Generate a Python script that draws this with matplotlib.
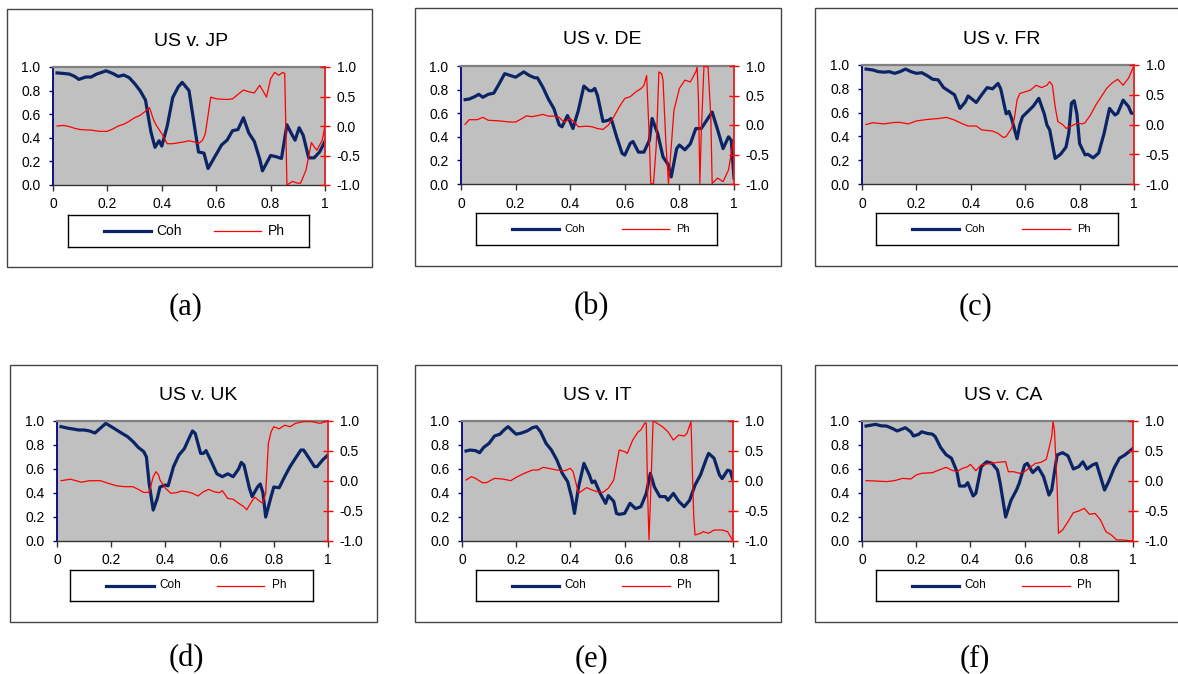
import numpy as np
import matplotlib
matplotlib.use('Agg')
import matplotlib.pyplot as plt
from matplotlib.patches import Rectangle

plt.rcParams['font.family'] = ['Liberation Sans', 'DejaVu Sans']
plt.rcParams['axes.unicode_minus'] = False

# Дані, зчитані з графіків (частота, когерентність, фаза)
jp_coh_x = [0.015, 0.04, 0.06, 0.08, 0.095, 0.12, 0.14, 0.16, 0.18, 0.195, 0.22, 0.24, 0.26, 0.28, 0.30,
            0.32, 0.34, 0.36, 0.375, 0.39, 0.40, 0.42, 0.44, 0.46, 0.475, 0.50, 0.52, 0.535, 0.555, 0.57,
            0.60, 0.62, 0.64, 0.66, 0.68, 0.70, 0.72, 0.74, 0.76, 0.77, 0.80, 0.82, 0.84, 0.86, 0.88,
            0.89, 0.905, 0.92, 0.94, 0.96, 0.98, 1.0]
jp_coh = [0.95, 0.945, 0.94, 0.92, 0.895, 0.915, 0.915, 0.94, 0.955, 0.968, 0.945, 0.92, 0.932, 0.91, 0.86,
          0.80, 0.72, 0.45, 0.32, 0.375, 0.33, 0.50, 0.74, 0.83, 0.87, 0.80, 0.50, 0.28, 0.27, 0.14,
          0.26, 0.34, 0.38, 0.46, 0.47, 0.57, 0.44, 0.37, 0.22, 0.12, 0.25, 0.24, 0.225, 0.51, 0.42,
          0.38, 0.485, 0.42, 0.23, 0.23, 0.28, 0.37]
jp_ph_x = [0.015, 0.04, 0.06, 0.08, 0.10, 0.14, 0.17, 0.20, 0.22, 0.24, 0.26, 0.28, 0.30, 0.32, 0.34,
           0.355, 0.37, 0.38, 0.40, 0.42, 0.44, 0.48, 0.50, 0.52, 0.535, 0.55, 0.56, 0.58, 0.60, 0.64,
           0.66, 0.70, 0.72, 0.74, 0.76, 0.785, 0.80, 0.815, 0.83, 0.845, 0.852, 0.86, 0.88, 0.90, 0.91,
           0.93, 0.95, 0.96, 0.97, 0.99, 1.0]
jp_ph = [0.0, 0.01, -0.01, -0.04, -0.06, -0.07, -0.09, -0.09, -0.05, 0.0, 0.03, 0.08, 0.14, 0.18, 0.25,
         0.31, 0.10, 0.01, -0.13, -0.30, -0.30, -0.27, -0.25, -0.27, -0.30, -0.24, -0.13, 0.49, 0.46, 0.45,
         0.46, 0.61, 0.58, 0.56, 0.69, 0.49, 0.80, 0.91, 0.86, 0.91, 0.89, -1.0, -0.94, -0.97, -0.97,
         -0.75, -0.28, -0.35, -0.41, -0.24, 0.01]

de_coh_x = [0.015, 0.03, 0.05, 0.065, 0.08, 0.10, 0.12, 0.14, 0.16, 0.18, 0.20, 0.22, 0.23, 0.25, 0.27,
            0.28, 0.30, 0.32, 0.34, 0.36, 0.37, 0.39, 0.41, 0.43, 0.45, 0.47, 0.48, 0.49, 0.50, 0.52,
            0.54, 0.55, 0.57, 0.59, 0.60, 0.62, 0.63, 0.65, 0.67, 0.69, 0.70, 0.72, 0.74, 0.76, 0.77,
            0.79, 0.80, 0.82, 0.84, 0.86, 0.88, 0.90, 0.92, 0.94, 0.96, 0.98, 0.99, 1.0]
de_coh = [0.715, 0.72, 0.74, 0.76, 0.735, 0.76, 0.77, 0.85, 0.935, 0.92, 0.905, 0.935, 0.95, 0.92, 0.90,
          0.90, 0.82, 0.72, 0.64, 0.50, 0.485, 0.58, 0.47, 0.625, 0.83, 0.79, 0.79, 0.81, 0.75, 0.53,
          0.54, 0.555, 0.40, 0.26, 0.245, 0.345, 0.36, 0.27, 0.27, 0.37, 0.555, 0.43, 0.23, 0.16, 0.06,
          0.30, 0.33, 0.29, 0.34, 0.47, 0.47, 0.54, 0.61, 0.46, 0.30, 0.40, 0.37, 0.05]
de_ph_x = [0.015, 0.03, 0.06, 0.08, 0.10, 0.14, 0.18, 0.20, 0.22, 0.24, 0.26, 0.28, 0.30, 0.32, 0.34,
           0.36, 0.37, 0.38, 0.40, 0.42, 0.43, 0.46, 0.48, 0.50, 0.52, 0.54, 0.56, 0.58, 0.60, 0.62,
           0.64, 0.66, 0.67, 0.68, 0.69, 0.695, 0.705, 0.715, 0.725, 0.735, 0.74, 0.75, 0.76, 0.77, 0.78,
           0.80, 0.82, 0.84, 0.86, 0.865, 0.87, 0.875, 0.88, 0.89, 0.905, 0.915, 0.92, 0.94, 0.96, 0.98,
           1.0]
de_ph = [0.01, 0.09, 0.09, 0.13, 0.08, 0.07, 0.05, 0.05, 0.10, 0.155, 0.14, 0.16, 0.18, 0.15, 0.15,
         0.13, 0.08, 0.05, 0.11, 0.025, -0.03, -0.02, -0.03, -0.06, -0.075, 0.0, 0.14, 0.31, 0.45, 0.48,
         0.56, 0.62, 0.67, 0.84, -0.26, -0.99, -1.0, -0.37, 0.90, 0.87, 0.76, -0.26, -0.99, -0.37, 0.25,
         0.62, 0.76, 0.73, 0.90, 0.98, 0.42, -0.99, -0.14, 1.0, 0.98, 0.14, -0.99, -0.90, -0.96, -0.76,
         -0.2]

fr_coh_x = [0.015, 0.04, 0.06, 0.08, 0.10, 0.12, 0.14, 0.16, 0.18, 0.20, 0.22, 0.24, 0.26, 0.28, 0.30,
            0.32, 0.34, 0.36, 0.38, 0.39, 0.42, 0.44, 0.46, 0.48, 0.50, 0.51, 0.53, 0.54, 0.55, 0.57,
            0.58, 0.59, 0.61, 0.63, 0.65, 0.67, 0.68, 0.69, 0.71, 0.73, 0.75, 0.76, 0.77, 0.78, 0.79,
            0.80, 0.82, 0.83, 0.85, 0.87, 0.89, 0.91, 0.93, 0.94, 0.96, 0.98, 0.99, 1.0]
fr_coh = [0.966, 0.958, 0.944, 0.94, 0.944, 0.93, 0.944, 0.966, 0.944, 0.93, 0.935, 0.91, 0.88, 0.875, 0.81,
          0.78, 0.75, 0.635, 0.69, 0.74, 0.685, 0.75, 0.81, 0.80, 0.845, 0.80, 0.59, 0.61, 0.55, 0.38,
          0.495, 0.565, 0.61, 0.655, 0.72, 0.59, 0.495, 0.455, 0.215, 0.25, 0.31, 0.425, 0.68, 0.70, 0.59,
          0.34, 0.245, 0.25, 0.22, 0.26, 0.425, 0.635, 0.58, 0.595, 0.705, 0.65, 0.595, 0.595]
fr_ph_x = [0.015, 0.04, 0.08, 0.12, 0.14, 0.17, 0.20, 0.24, 0.28, 0.31, 0.34, 0.37, 0.39, 0.42, 0.44,
           0.48, 0.50, 0.52, 0.53, 0.55, 0.56, 0.57, 0.58, 0.60, 0.62, 0.64, 0.66, 0.68, 0.69, 0.70,
           0.71, 0.72, 0.74, 0.75, 0.77, 0.79, 0.81, 0.82, 0.84, 0.86, 0.88, 0.90, 0.92, 0.94, 0.96,
           0.98, 1.0]
fr_ph = [0.0, 0.03, 0.01, 0.035, 0.035, 0.01, 0.06, 0.085, 0.10, 0.12, 0.075, 0.01, -0.025, -0.025, -0.09,
         -0.11, -0.15, -0.22, -0.20, -0.065, 0.10, 0.41, 0.52, 0.55, 0.58, 0.66, 0.62, 0.66, 0.72, 0.66,
         0.30, 0.05, -0.01, -0.065, -0.025, 0.02, 0.01, 0.03, 0.16, 0.33, 0.47, 0.61, 0.70, 0.76, 0.66,
         0.78, 0.99]

uk_coh_x = [0.015, 0.04, 0.06, 0.08, 0.10, 0.12, 0.14, 0.16, 0.18, 0.20, 0.22, 0.24, 0.26, 0.28, 0.30,
            0.32, 0.33, 0.34, 0.355, 0.37, 0.38, 0.40, 0.41, 0.43, 0.45, 0.47, 0.49, 0.50, 0.51, 0.53,
            0.54, 0.55, 0.57, 0.59, 0.61, 0.63, 0.65, 0.67, 0.68, 0.69, 0.71, 0.72, 0.74, 0.75, 0.76,
            0.77, 0.79, 0.80, 0.82, 0.84, 0.86, 0.88, 0.90, 0.91, 0.93, 0.95, 0.96, 0.98, 1.0]
uk_coh = [0.953, 0.94, 0.933, 0.925, 0.925, 0.917, 0.90, 0.94, 0.98, 0.953, 0.925, 0.897, 0.87, 0.83, 0.78,
          0.745, 0.70, 0.48, 0.258, 0.355, 0.45, 0.467, 0.46, 0.62, 0.717, 0.77, 0.87, 0.917, 0.897, 0.73,
          0.73, 0.753, 0.66, 0.56, 0.536, 0.56, 0.536, 0.60, 0.655, 0.633, 0.44, 0.37, 0.45, 0.475, 0.40,
          0.20, 0.37, 0.45, 0.444, 0.536, 0.62, 0.69, 0.758, 0.758, 0.69, 0.62, 0.62, 0.675, 0.717]
uk_ph_x = [0.015, 0.05, 0.07, 0.09, 0.12, 0.16, 0.19, 0.22, 0.25, 0.28, 0.30, 0.32, 0.34, 0.355, 0.365,
           0.375, 0.38, 0.40, 0.42, 0.44, 0.46, 0.48, 0.50, 0.52, 0.54, 0.56, 0.58, 0.60, 0.61, 0.63,
           0.65, 0.67, 0.69, 0.70, 0.72, 0.73, 0.75, 0.76, 0.77, 0.78, 0.79, 0.80, 0.82, 0.84, 0.86,
           0.88, 0.91, 0.94, 0.97, 1.0]
uk_ph = [0.005, 0.03, 0.005, -0.02, 0.005, 0.005, -0.04, -0.08, -0.095, -0.095, -0.14, -0.19, -0.19, 0.07, 0.155,
         0.10, 0.017, -0.12, -0.205, -0.195, -0.167, -0.18, -0.205, -0.25, -0.18, -0.14, -0.18, -0.195, -0.16, -0.29,
         -0.305, -0.37, -0.43, -0.48, -0.33, -0.27, -0.345, -0.37, -0.205, 0.63, 0.82, 0.905, 0.87, 0.93, 0.905,
         0.96, 0.99, 0.99, 0.96, 1.0]

it_coh_x = [0.015, 0.03, 0.05, 0.065, 0.08, 0.10, 0.12, 0.14, 0.155, 0.17, 0.19, 0.20, 0.22, 0.24, 0.26,
            0.275, 0.29, 0.31, 0.33, 0.35, 0.37, 0.39, 0.405, 0.415, 0.43, 0.45, 0.47, 0.48, 0.49, 0.51,
            0.53, 0.54, 0.56, 0.57, 0.58, 0.60, 0.62, 0.64, 0.66, 0.68, 0.695, 0.71, 0.73, 0.75, 0.76,
            0.78, 0.80, 0.82, 0.84, 0.86, 0.88, 0.90, 0.91, 0.93, 0.95, 0.96, 0.98, 0.99, 1.0]
it_coh = [0.75, 0.758, 0.753, 0.736, 0.78, 0.814, 0.875, 0.89, 0.925, 0.953, 0.91, 0.89, 0.90, 0.917, 0.944,
          0.953, 0.91, 0.814, 0.758, 0.675, 0.564, 0.494, 0.36, 0.23, 0.45, 0.647, 0.55, 0.486, 0.50, 0.397,
          0.314, 0.378, 0.33, 0.23, 0.222, 0.23, 0.314, 0.27, 0.286, 0.397, 0.564, 0.45, 0.37, 0.37, 0.34,
          0.397, 0.33, 0.286, 0.34, 0.467, 0.55, 0.675, 0.73, 0.69, 0.55, 0.52, 0.59, 0.583, 0.508]
it_ph_x = [0.015, 0.035, 0.05, 0.075, 0.09, 0.12, 0.15, 0.18, 0.20, 0.23, 0.26, 0.28, 0.30, 0.32, 0.35,
           0.38, 0.40, 0.41, 0.43, 0.45, 0.46, 0.48, 0.50, 0.52, 0.54, 0.56, 0.58, 0.60, 0.61, 0.63,
           0.65, 0.66, 0.675, 0.68, 0.685, 0.69, 0.695, 0.705, 0.71, 0.72, 0.74, 0.76, 0.78, 0.80, 0.82,
           0.83, 0.845, 0.855, 0.86, 0.88, 0.89, 0.91, 0.93, 0.96, 0.98, 1.0]
it_ph = [0.017, 0.072, 0.044, -0.028, -0.028, 0.044, 0.033, 0.006, 0.061, 0.128, 0.183, 0.183, 0.228, 0.21, 0.183,
         0.172, 0.21, 0.155, -0.205, -0.14, -0.11, -0.15, -0.18, -0.19, -0.12, 0.017, 0.517, 0.49, 0.46, 0.683,
         0.82, 0.85, 0.97, 0.96, -0.205, -0.98, -0.37, 0.99, 0.99, 0.96, 0.905, 0.82, 0.683, 0.767, 0.75,
         0.794, 0.99, -0.594, -0.90, -0.872, -0.844, -0.872, -0.817, -0.817, -0.844, -1.0]

ca_coh_x = [0.015, 0.03, 0.05, 0.07, 0.09, 0.11, 0.13, 0.16, 0.18, 0.19, 0.21, 0.22, 0.24, 0.26, 0.27,
            0.29, 0.31, 0.33, 0.35, 0.36, 0.38, 0.39, 0.41, 0.42, 0.44, 0.46, 0.48, 0.50, 0.51, 0.53,
            0.55, 0.57, 0.58, 0.60, 0.61, 0.63, 0.65, 0.67, 0.69, 0.70, 0.72, 0.74, 0.76, 0.78, 0.80,
            0.815, 0.83, 0.85, 0.865, 0.88, 0.895, 0.91, 0.93, 0.95, 0.97, 0.99, 1.0]
ca_coh = [0.958, 0.964, 0.972, 0.96, 0.958, 0.94, 0.917, 0.944, 0.91, 0.875, 0.89, 0.91, 0.897, 0.89, 0.87,
          0.78, 0.72, 0.69, 0.58, 0.458, 0.458, 0.486, 0.375, 0.397, 0.62, 0.66, 0.647, 0.59, 0.48, 0.20,
          0.34, 0.425, 0.48, 0.633, 0.647, 0.57, 0.614, 0.536, 0.383, 0.425, 0.717, 0.736, 0.71, 0.60, 0.62,
          0.66, 0.60, 0.633, 0.647, 0.536, 0.425, 0.494, 0.606, 0.69, 0.717, 0.753, 0.772]
ca_ph_x = [0.015, 0.05, 0.09, 0.12, 0.15, 0.18, 0.20, 0.22, 0.26, 0.29, 0.31, 0.33, 0.35, 0.37, 0.39,
           0.40, 0.42, 0.44, 0.46, 0.48, 0.50, 0.53, 0.54, 0.56, 0.58, 0.60, 0.62, 0.64, 0.66, 0.68,
           0.69, 0.70, 0.705, 0.71, 0.72, 0.725, 0.74, 0.76, 0.78, 0.80, 0.82, 0.84, 0.86, 0.88, 0.90,
           0.92, 0.94, 0.96, 1.0]
ca_ph = [0.006, 0.0, -0.01, 0.006, 0.044, 0.033, 0.10, 0.128, 0.139, 0.194, 0.228, 0.183, 0.155, 0.21, 0.239,
         0.278, 0.172, 0.267, 0.283, 0.294, 0.311, 0.322, 0.155, 0.155, 0.128, 0.155, 0.228, 0.294, 0.311, 0.361,
         0.544, 0.739, 0.99, 0.85, -0.094, -0.872, -0.817, -0.678, -0.528, -0.5, -0.456, -0.556, -0.54, -0.65, -0.844,
         -0.90, -0.983, -0.983, -1.0]

titles = ['US v. JP', 'US v. DE', 'US v. FR', 'US v. UK', 'US v. IT', 'US v. CA']
captions = ['(a)', '(b)', '(c)', '(d)', '(e)', '(f)']
x_ticks = [0, 0.2, 0.4, 0.6, 0.8, 1]
x_tick_labels = ['0', '0.2', '0.4', '0.6', '0.8', '1']
coh_ticks = [0.0, 0.2, 0.4, 0.6, 0.8, 1.0]
ph_ticks = [-1.0, -0.5, 0.0, 0.5, 1.0]

series = [(jp_coh_x, jp_coh, jp_ph_x, jp_ph),
          (de_coh_x, de_coh, de_ph_x, de_ph),
          (fr_coh_x, fr_coh, fr_ph_x, fr_ph),
          (uk_coh_x, uk_coh, uk_ph_x, uk_ph),
          (it_coh_x, it_coh, it_ph_x, it_ph),
          (ca_coh_x, ca_coh, ca_ph_x, ca_ph)]

# Розміщення (у пікселях)
W, H = 1178, 674
frames = [(7, 9, 372, 267), (415, 8, 781, 266), (815, 8, 1190, 266),
          (10, 365, 377, 622), (415, 365, 781, 622), (815, 365, 1190, 622)]
plots = [(53, 67, 325, 185), (461, 66, 734, 184), (862, 65, 1134, 184),
         (57, 421, 328, 541), (462, 421, 733, 541), (862, 421, 1133, 541)]
title_pos = [(191, 42), (602, 40), (1002, 40), (198, 395), (597, 395), (1003, 395)]
legends = [(68, 215, 309, 247), (476, 213, 717, 245), (876, 213, 1118, 245),
           (70, 570, 313, 601), (476, 570, 718, 601), (876, 570, 1118, 601)]
legend_fs = [10, 8, 8, 8.5, 8.5, 8.5]
caption_pos = [(186, 307), (591, 307), (975, 307), (186, 659), (591, 659), (975, 659)]

NAVY = '#0B2466'
RED = '#FF0000'


def box(x0, y0, x1, y1):
    return [x0 / W, 1 - y1 / H, (x1 - x0) / W, (y1 - y0) / H]


fig = plt.figure(figsize=(W / 100, H / 100), dpi=100)
fig.patch.set_facecolor('white')

for i in range(6):
    cx, cy, px, py = series[i]

    # Рамка панелі
    f = box(*frames[i])
    fig.add_artist(Rectangle((f[0], f[1]), f[2], f[3], transform=fig.transFigure,
                             fill=False, ec='#444444', lw=1.0))

    ax = fig.add_axes(box(*plots[i]))
    ax.set_facecolor('#C0C0C0')
    ax.plot(cx, cy, color=NAVY, lw=2.3, solid_joinstyle='round')
    ax.set_xlim(0, 1)
    ax.set_ylim(0, 1)
    ax.set_xticks(x_ticks)
    ax.set_xticklabels(x_tick_labels)
    ax.set_yticks(coh_ticks)
    ax.set_yticklabels([f'{v:.1f}' for v in coh_ticks])
    ax.tick_params(axis='x', direction='out', length=4, width=1, color='#333333', labelsize=10, pad=5)
    ax.tick_params(axis='y', direction='out', length=3, width=1, color='#000080', labelsize=10, pad=6)
    ax.spines['left'].set_color('#000080')
    ax.spines['left'].set_linewidth(1.3)
    ax.spines['top'].set_color('#808080')
    ax.spines['top'].set_linewidth(1.6)
    ax.spines['bottom'].set_color('#333333')
    ax.spines['bottom'].set_linewidth(1.0)
    ax.spines['right'].set_visible(False)

    ax2 = ax.twinx()
    ax2.plot(px, py, color=RED, lw=0.9)
    ax2.set_ylim(-1, 1)
    ax2.set_yticks(ph_ticks)
    ax2.set_yticklabels([f'{v:.1f}' for v in ph_ticks])
    ax2.tick_params(axis='y', direction='inout', length=7, width=1, color=RED, labelsize=10, pad=5)
    for s in ['left', 'top', 'bottom']:
        ax2.spines[s].set_visible(False)
    ax2.spines['right'].set_color('#E02020')
    ax2.spines['right'].set_linewidth(1.3)

    tx, ty = title_pos[i]
    fig.text(tx / W, 1 - ty / H, titles[i], ha='center', va='center', fontsize=14)

    # Легенда
    lax = fig.add_axes(box(*legends[i]))
    lax.set_xlim(0, 1)
    lax.set_ylim(0, 1)
    lax.set_xticks([])
    lax.set_yticks([])
    lax.set_facecolor('white')
    for s in lax.spines.values():
        s.set_color('black')
        s.set_linewidth(1.0)
    lax.plot([0.15, 0.345], [0.5, 0.5], color=NAVY, lw=2.3)
    lax.text(0.367, 0.5, 'Coh', va='center', ha='left', fontsize=legend_fs[i])
    lax.plot([0.605, 0.80], [0.5, 0.5], color=RED, lw=0.9)
    lax.text(0.83, 0.5, 'Ph', va='center', ha='left', fontsize=legend_fs[i])

    cxp, cyp = caption_pos[i]
    fig.text(cxp / W, 1 - cyp / H, captions[i], ha='center', va='center', fontsize=22,
             family=['Liberation Serif', 'DejaVu Serif'])

fig.savefig('out.png', dpi=100)
